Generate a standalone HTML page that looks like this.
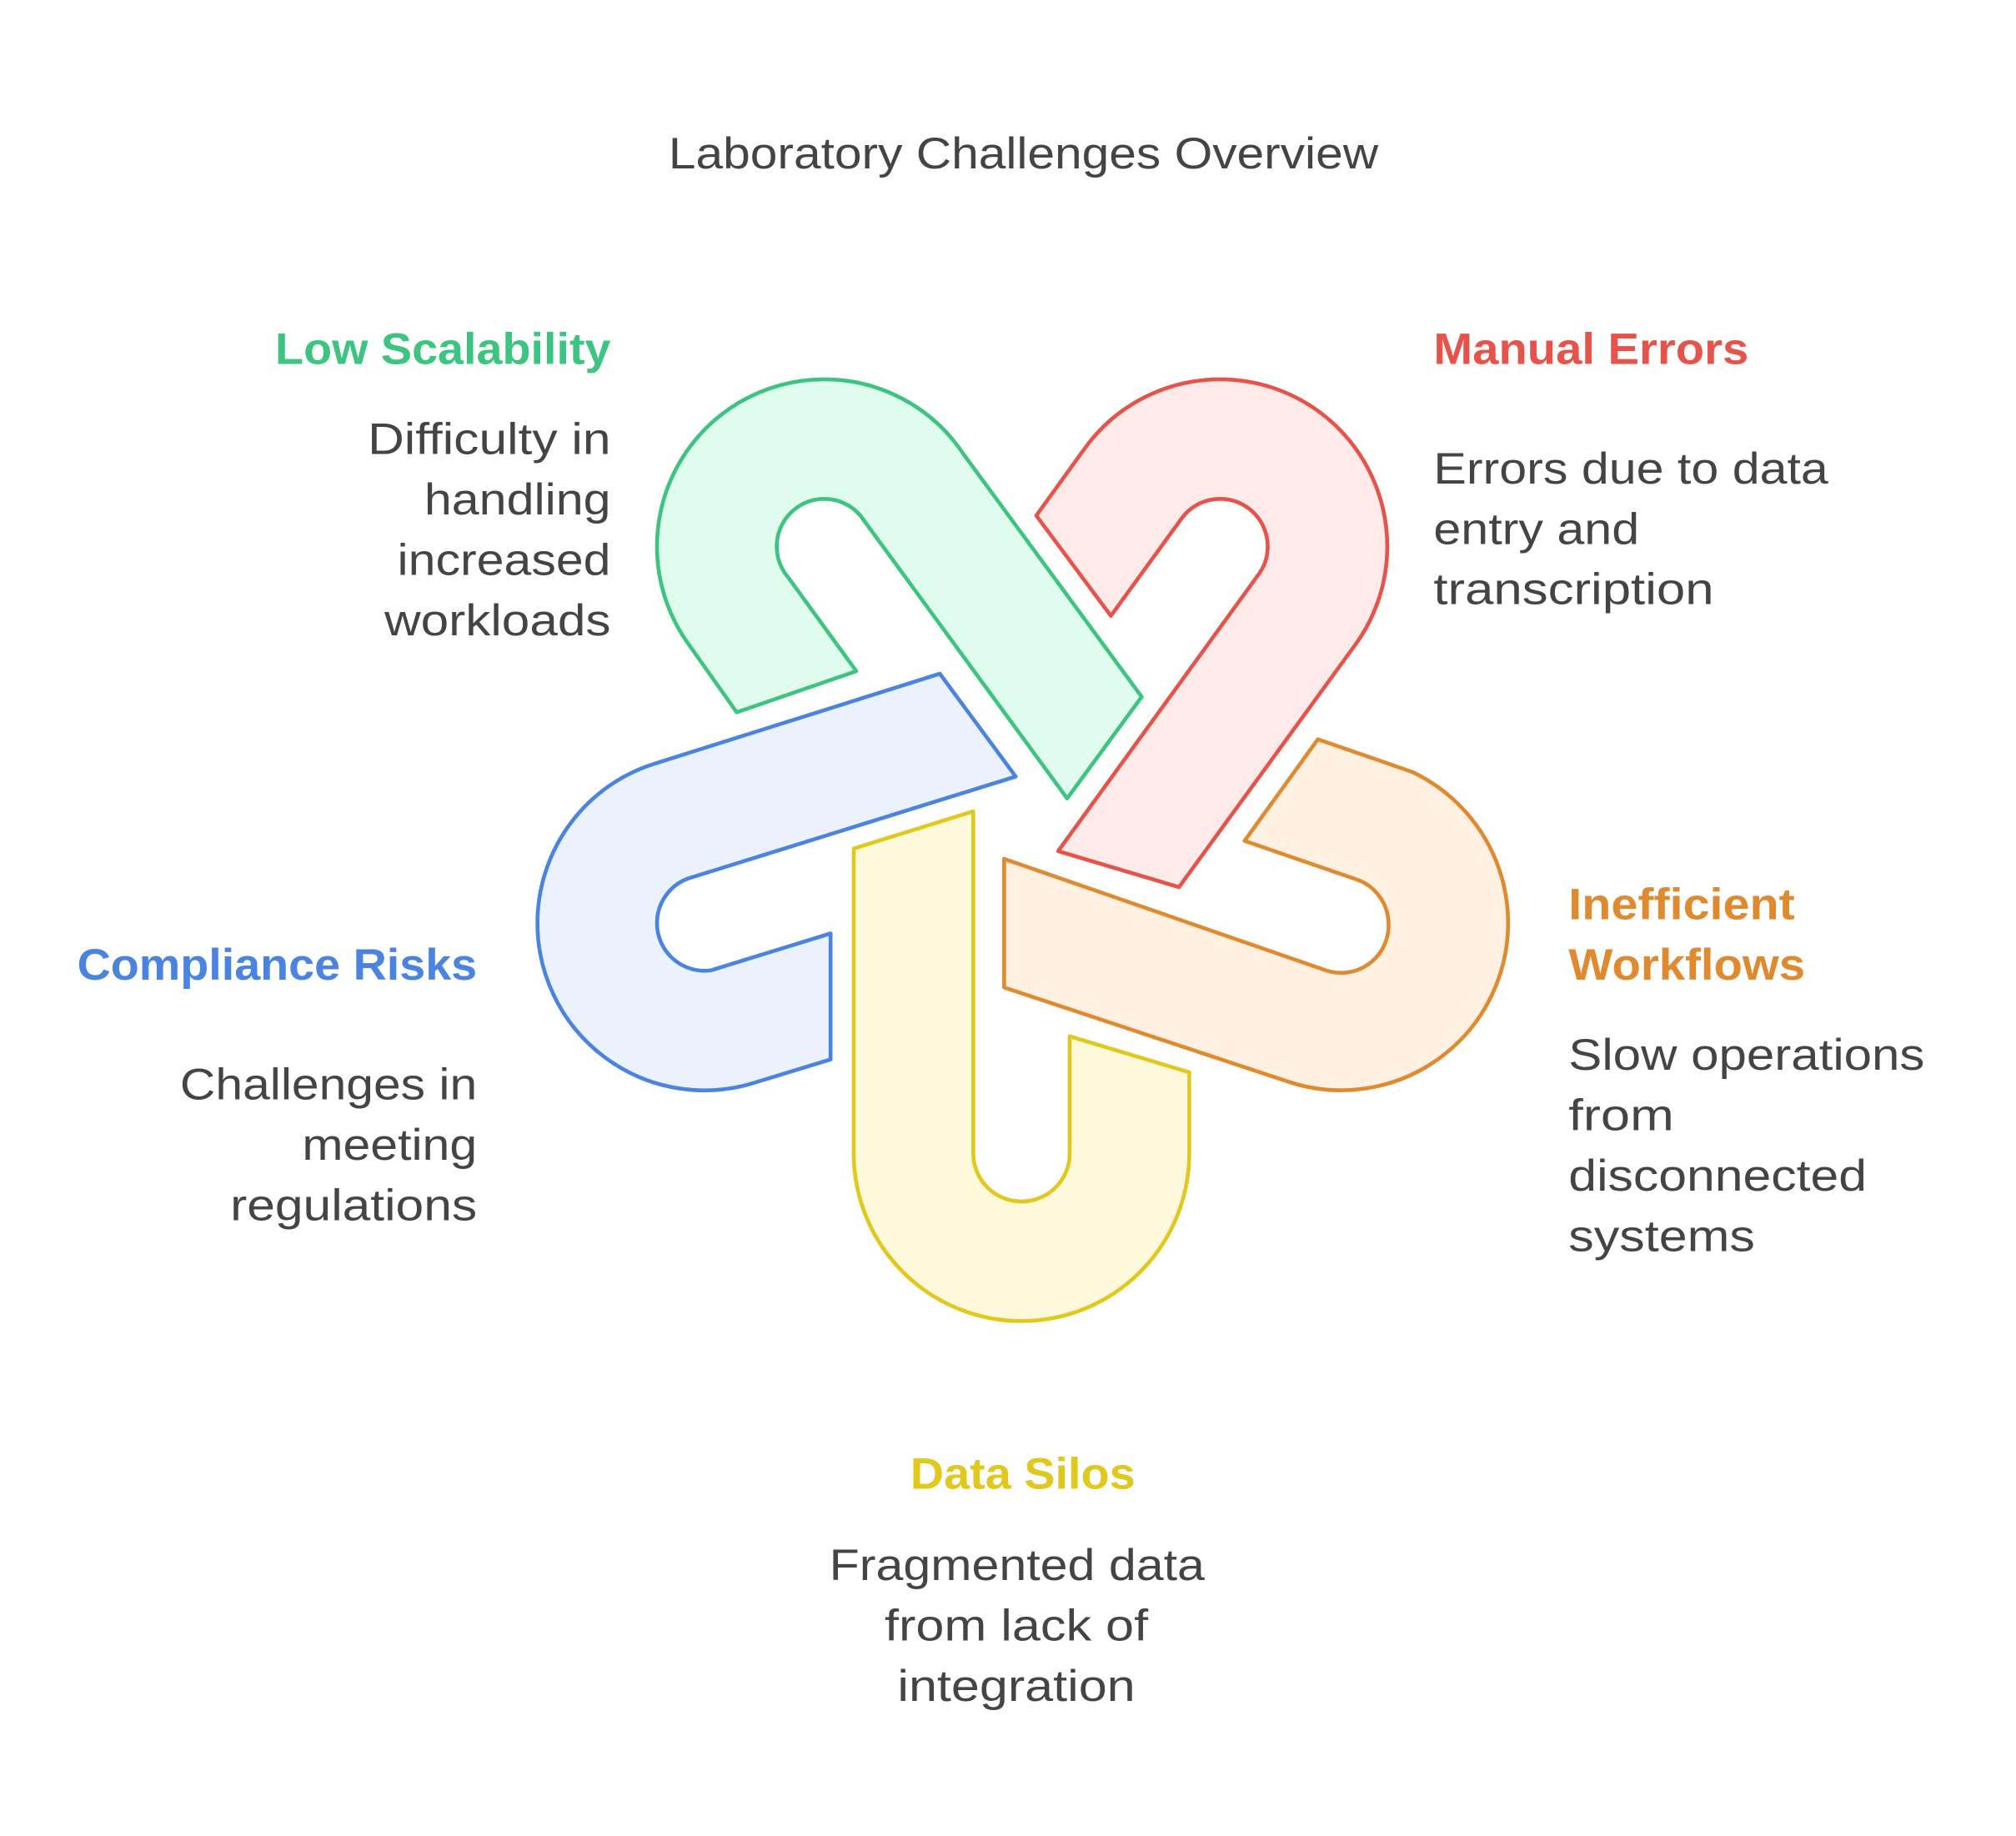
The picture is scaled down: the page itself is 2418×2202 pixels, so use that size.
<!DOCTYPE html>
<html><head><meta charset="utf-8"><style>
html,body{margin:0;padding:0;background:#fff}
svg{display:block}
text{font-family:"Liberation Sans",Arial,sans-serif}
</style></head><body>
<svg width="2418" height="2202" viewBox="0 0 1568 1428" xmlns="http://www.w3.org/2000/svg">
<rect width="1568" height="1428" fill="#fff"/>
<text x="520" y="131" font-size="34" fill="#444" textLength="552" lengthAdjust="spacingAndGlyphs">Laboratory Challenges Overview</text>

<g stroke-width="3" stroke-linejoin="round">
<path d="M573,554 L535.3,500.7 A130,130 0 0 1 641,295 A130,130 0 0 1 749.3,353.1 L888,542 L830,621 L672.1,405 A37,37 0 0 0 641,388 A37,37 0 0 0 613,449 L666,522 Z" fill="#e0fcef" stroke="#3cc480"/>
<path d="M806,401 L843.8,348.6 A130,130 0 0 1 949,295 A130,130 0 0 1 1079,425 A130,130 0 0 1 1054.4,501.1 L917,690 L823,662 L978,448 A37,37 0 0 0 986,425 A37,37 0 0 0 949,388 A37,37 0 0 0 919.3,402.9 L864,479 Z" fill="#ffeaea" stroke="#e5534b"/>
<path d="M1025,575 L1097.9,600.2 A130,130 0 0 1 1173,718 A130,130 0 0 1 1002.8,841.6 L781,768 L781,668 L1032,755 A37,37 0 0 0 1080,718 A37,37 0 0 0 1055,684 L968,654 Z" fill="#fff0e2" stroke="#e08a30"/>
<path d="M664,660 L757,631 L757,897 A37,37 0 0 0 832,897 L832,806 L925,834 L925,897 A130.5,130.5 0 0 1 664,897 Z" fill="#fff9dc" stroke="#e0c81c"/>
<path d="M731,524 L790,604 L534.8,683.4 A37,37 0 0 0 511,718 A37,37 0 0 0 553,754.7 L646,726 L646,824 L584.9,842.7 A130,130 0 0 1 418,718 A130,130 0 0 1 509.6,593.8 Z" fill="#ebf2fe" stroke="#4a84e0"/>
</g>

<g font-size="34" fill="#444">
<text x="214" y="283" font-weight="bold" fill="#3cc480" textLength="261" lengthAdjust="spacingAndGlyphs">Low Scalability</text>
<text x="286" y="353" textLength="189" lengthAdjust="spacingAndGlyphs">Difficulty in</text>
<text x="330" y="400" textLength="145" lengthAdjust="spacingAndGlyphs">handling</text>
<text x="309" y="447" textLength="166" lengthAdjust="spacingAndGlyphs">increased</text>
<text x="299" y="494" textLength="176" lengthAdjust="spacingAndGlyphs">workloads</text>

<text x="1115" y="283" font-weight="bold" fill="#e5534b" textLength="245" lengthAdjust="spacingAndGlyphs">Manual Errors</text>
<text x="1115" y="376" textLength="307" lengthAdjust="spacingAndGlyphs">Errors due to data</text>
<text x="1115" y="423" textLength="160" lengthAdjust="spacingAndGlyphs">entry and</text>
<text x="1115" y="470" textLength="218" lengthAdjust="spacingAndGlyphs">transcription</text>

<text x="1220" y="715" font-weight="bold" fill="#e08a30" textLength="176" lengthAdjust="spacingAndGlyphs">Inefficient</text>
<text x="1220" y="762" font-weight="bold" fill="#e08a30" textLength="184" lengthAdjust="spacingAndGlyphs">Workflows</text>
<text x="1220" y="832" textLength="277" lengthAdjust="spacingAndGlyphs">Slow operations</text>
<text x="1220" y="879" textLength="82" lengthAdjust="spacingAndGlyphs">from</text>
<text x="1220" y="926" textLength="232" lengthAdjust="spacingAndGlyphs">disconnected</text>
<text x="1220" y="973" textLength="145" lengthAdjust="spacingAndGlyphs">systems</text>

<text x="60" y="762" font-weight="bold" fill="#4a84e0" textLength="311" lengthAdjust="spacingAndGlyphs">Compliance Risks</text>
<text x="140" y="855" textLength="231" lengthAdjust="spacingAndGlyphs">Challenges in</text>
<text x="235" y="902" textLength="136" lengthAdjust="spacingAndGlyphs">meeting</text>
<text x="179" y="949" textLength="192" lengthAdjust="spacingAndGlyphs">regulations</text>

<text x="708" y="1158" font-weight="bold" fill="#e0c81c" textLength="175" lengthAdjust="spacingAndGlyphs">Data Silos</text>
<text x="645" y="1229" textLength="292" lengthAdjust="spacingAndGlyphs">Fragmented data</text>
<text x="688" y="1276" textLength="205" lengthAdjust="spacingAndGlyphs">from lack of</text>
<text x="698" y="1323" textLength="185" lengthAdjust="spacingAndGlyphs">integration</text>
</g>
</svg>
</body></html>
